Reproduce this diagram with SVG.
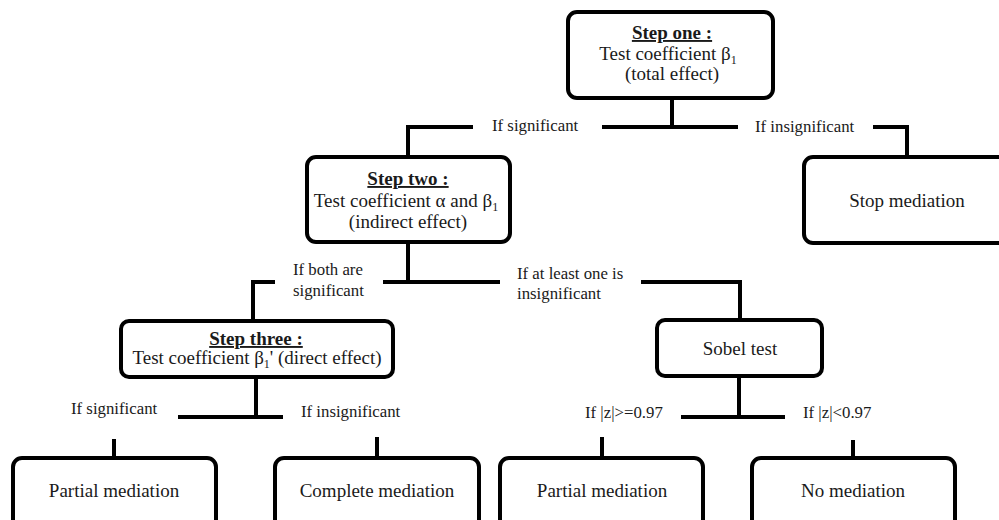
<svg xmlns="http://www.w3.org/2000/svg" width="999" height="520" viewBox="0 0 999 520" font-family="'Liberation Serif', 'DejaVu Serif', serif">
<style>
.box{fill:#fff;stroke:#000;stroke-width:4;}
.ln{fill:none;stroke:#000;stroke-width:4;stroke-linejoin:miter;}
text{fill:#1a1a1a;}
.t{font-size:19px;text-anchor:middle;}
.h{font-size:19px;font-weight:bold;text-anchor:middle;text-decoration:underline;}
.l{font-size:16.8px;}
.sub{font-size:12px;}
</style>
<rect width="999" height="520" fill="#fff"/>
<g id="connectors">
<path class="ln" d="M672 98 V127 M408 157 V127 H473 M602 127 H738 M873 127 H907 V157"/>
<path class="ln" d="M408 242 V282 M383 282 H500 M275 282 H253 V320 M641 282 H740 V320"/>
<path class="ln" d="M256 377 V417 M178 417 H283 M114 439 V458 M377 437 V458"/>
<path class="ln" d="M739 376 V417 M681 417 H785 M602 437 V458 M853 440 V458"/>
</g>
<g id="step1">
<rect class="box" x="568" y="12" width="205" height="86" rx="9"/>
<text class="h" x="672" y="39">Step one :</text>
<text class="t" x="668" y="60">Test coefficient β<tspan class="sub" dy="4">1</tspan></text>
<text class="t" x="672" y="80">(total effect)</text>
</g>
<g id="label-sig1"><text class="l" x="492" y="131">If significant</text></g>
<g id="label-insig1"><text class="l" x="755" y="132">If insignificant</text></g>
<g id="stop">
<rect class="box" x="804" y="157" width="205" height="86" rx="9"/>
<text class="t" x="907" y="207">Stop mediation</text>
</g>
<g id="step2">
<rect class="box" x="307" y="157" width="203" height="85" rx="9"/>
<text class="h" x="408" y="185">Step two :</text>
<text class="t" x="406" y="207">Test coefficient α and β<tspan class="sub" dy="4">1</tspan></text>
<text class="t" x="408" y="228">(indirect effect)</text>
</g>
<g id="label-both"><text class="l" x="293" y="275">If both are</text><text class="l" x="293" y="296">significant</text></g>
<g id="label-atleast"><text class="l" x="517" y="279">If at least one is</text><text class="l" x="517" y="299">insignificant</text></g>
<g id="step3">
<rect class="box" x="121" y="321" width="272" height="56" rx="8"/>
<text class="h" x="256" y="345">Step three :</text>
<text class="t" x="257" y="364">Test coefficient β<tspan class="sub" dy="4">1</tspan><tspan dy="-4">' (direct effect)</tspan></text>
</g>
<g id="sobel">
<rect class="box" x="657" y="320" width="165" height="56" rx="8"/>
<text class="t" x="740" y="355">Sobel test</text>
</g>
<g id="label-sig3"><text class="l" x="71" y="414">If significant</text></g>
<g id="label-insig3"><text class="l" x="301" y="417">If insignificant</text></g>
<g id="label-zge"><text class="l" x="585" y="418">If |z|&gt;=0.97</text></g>
<g id="label-zlt"><text class="l" x="803" y="418">If |z|&lt;0.97</text></g>
<g id="partial1">
<rect class="box" x="13" y="458" width="203" height="80" rx="9"/>
<text class="t" x="114" y="497">Partial mediation</text>
</g>
<g id="complete">
<rect class="box" x="275" y="458" width="204" height="80" rx="9"/>
<text class="t" x="377" y="497">Complete mediation</text>
</g>
<g id="partial2">
<rect class="box" x="500" y="458" width="203" height="80" rx="9"/>
<text class="t" x="602" y="497">Partial mediation</text>
</g>
<g id="nomed">
<rect class="box" x="752" y="458" width="203" height="80" rx="9"/>
<text class="t" x="853" y="497">No mediation</text>
</g>
</svg>
